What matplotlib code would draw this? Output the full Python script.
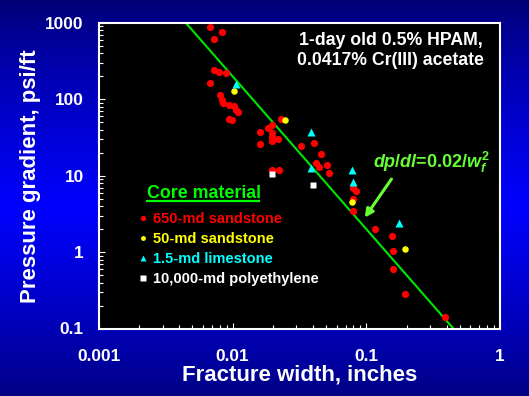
import numpy as np
import matplotlib
matplotlib.use("Agg")
import matplotlib.pyplot as plt
from matplotlib.lines import Line2D
from matplotlib.ticker import FixedLocator, FixedFormatter, LogLocator, NullFormatter

plt.rcParams['font.family'] = ['Liberation Sans', 'DejaVu Sans']
plt.rcParams['font.weight'] = 'bold'
plt.rcParams['mathtext.fontset'] = 'custom'
plt.rcParams['mathtext.it'] = 'Liberation Sans:italic:bold'
plt.rcParams['mathtext.rm'] = 'Liberation Sans:bold'
plt.rcParams['mathtext.bf'] = 'Liberation Sans:bold'

# ---- data ----
sand650_w = [0.00679, 0.00724, 0.0083, 0.00722, 0.00789, 0.00889, 0.00681, 0.00807,
             0.00839, 0.00843, 0.00946, 0.0103, 0.0106, 0.0110, 0.00946, 0.0099,
             0.0230, 0.0197, 0.0184, 0.0160, 0.0197, 0.0197, 0.0219, 0.0197, 0.0160,
             0.0197, 0.0221, 0.0407, 0.0326, 0.0457, 0.0418, 0.0443, 0.0505, 0.0522,
             0.0800, 0.0840, 0.0796, 0.0789, 0.1156, 0.1567, 0.157, 0.157, 0.193, 0.385]
sand650_dp = [881, 622, 752, 245, 228, 221, 164, 113,
              99, 90, 85.5, 82, 73.6, 68.5, 56, 53.4,
              55, 46.5, 42, 37.2, 36.4, 32.0, 30.4, 28.1, 25.7,
              11.9, 11.9, 26.5, 24.2, 19.0, 14.5, 13.1, 13.8, 10.9,
              6.9, 6.4, 4.97, 3.46, 2.01, 1.65, 1.04, 0.61, 0.283, 0.142]
sand50_w = [0.01026, 0.0248, 0.0777, 0.193]
sand50_dp = [130, 52.9, 4.58, 1.11]
lime_w = [0.01062, 0.0387, 0.0387, 0.0780, 0.0789, 0.175]
lime_dp = [157, 36.9, 12.6, 11.9, 8.2, 2.43]
poly_w = [0.0198, 0.0401]
poly_dp = [10.5, 7.5]

fit_coef = 0.02          # dp/dl = 0.02 / w^2
xticks = [0.001, 0.01, 0.1, 1]
xticklabels = ['0.001', '0.01', '0.1', '1']
yticks = [0.1, 1, 10, 100, 1000]
yticklabels = ['0.1', '1', '10', '100', '1000']
series_labels = ['650-md sandstone', '50-md sandstone', '1.5-md limestone', '10,000-md polyethylene']

W, H = 529, 396
fig = plt.figure(figsize=(W / 100, H / 100), dpi=100)

# background gradient
bg = fig.add_axes([0, 0, 1, 1], zorder=-10)
t = np.linspace(0, 1, 400)
b = 0.45 + 0.55 * np.clip(1 - np.abs(t - 0.52) / 0.52, 0, 1) ** 0.8
img = np.zeros((400, 1, 3))
img[:, 0, 2] = b
bg.imshow(img, aspect='auto', extent=[0, 1, 0, 1], interpolation='bilinear')
bg.set_axis_off()

ax = fig.add_axes([99 / W, (H - 328.5) / H, 401 / W, 305.5 / H])
ax.set_facecolor('black')
ax.set_xscale('log')
ax.set_yscale('log')
ax.set_xlim(0.001, 1)
ax.set_ylim(0.1, 1000)

wline = np.geomspace(0.001, 1, 200)
ax.plot(wline, fit_coef / wline ** 2, color='#00e600', lw=1.5, zorder=2)

ms = 5.2
h1, = ax.plot(sand650_w, sand650_dp, 'o', color='#ff0000', ms=ms, mec='none', zorder=3)
h2, = ax.plot(sand50_w, sand50_dp, 'o', color='#ffff00', ms=ms * 0.9, mec='none', zorder=4)
h3, = ax.plot(lime_w, lime_dp, '^', color='#00ffff', ms=ms * 1.05, mec='none', zorder=4)
h4, = ax.plot(poly_w, poly_dp, 's', color='#ffffff', ms=ms * 0.95, mec='none', zorder=5)

for s in ax.spines.values():
    s.set_color('white')
    s.set_linewidth(1.5)

ax.xaxis.set_major_locator(FixedLocator(xticks))
ax.xaxis.set_major_formatter(FixedFormatter(xticklabels))
ax.yaxis.set_major_locator(FixedLocator(yticks))
ax.yaxis.set_major_formatter(FixedFormatter(yticklabels))
ax.xaxis.set_minor_locator(LogLocator(base=10, subs=np.arange(2, 10)))
ax.yaxis.set_minor_locator(LogLocator(base=10, subs=np.arange(2, 10)))
ax.xaxis.set_minor_formatter(NullFormatter())
ax.yaxis.set_minor_formatter(NullFormatter())
ax.tick_params(which='both', direction='in', colors='white', width=0.8)
ax.tick_params(which='major', length=4)
ax.tick_params(which='minor', length=2.6)
ax.tick_params(axis='x', which='major', pad=15, labelsize=12.4)
ax.tick_params(axis='y', which='major', pad=11, labelsize=12.4)
for lab in ax.get_xticklabels() + ax.get_yticklabels():
    lab.set_fontweight('bold')

ax.set_xlabel('Fracture width, inches', color='white', fontsize=16, fontweight='bold', labelpad=0)
ax.set_ylabel('Pressure gradient, psi/ft', color='white', fontsize=16, fontweight='bold', labelpad=3)

ax.text(0.728, 0.944, '1-day old 0.5% HPAM,', transform=ax.transAxes, color='white',
        fontsize=12.7, fontweight='bold', ha='center', va='center')
ax.text(0.728, 0.876, '0.0417% Cr(III) acetate', transform=ax.transAxes, color='white',
        fontsize=12.7, fontweight='bold', ha='center', va='center')

# legend title with underline
ax.text(0.119, 0.441, 'Core material', transform=ax.transAxes, color='#00ff00',
        fontsize=12.8, fontweight='bold', ha='left', va='center')
ax.add_line(Line2D([0.1192, 0.400], [0.4165, 0.4165], transform=ax.transAxes,
                   color='#00ff00', lw=1.6))

leg = ax.legend([h1, h2, h3, h4], series_labels, loc='upper left',
                bbox_to_anchor=(0.096, 0.380), frameon=False, borderpad=0,
                borderaxespad=0, handlelength=0.8, handletextpad=0.28,
                labelspacing=0.40, markerscale=0.75,
                prop={'size': 10.5, 'weight': 'bold'},
                labelcolor=['#ff0000', '#ffff00', '#00ffff', '#ffffff'])

ax.annotate('', xy=(0.0946, 2.64), xytext=(0.1585, 9.7),
            arrowprops=dict(arrowstyle='-|>', color='#66ff33', lw=2.2, mutation_scale=12))
ax.text(0.828, 0.542, r'$dp/dl$=0.02/$w_f^2$', transform=ax.transAxes, color='#66ff33',
        fontsize=13, fontweight='bold', ha='center', va='center')

fig.savefig('out.png', dpi=100, facecolor=fig.get_facecolor())
